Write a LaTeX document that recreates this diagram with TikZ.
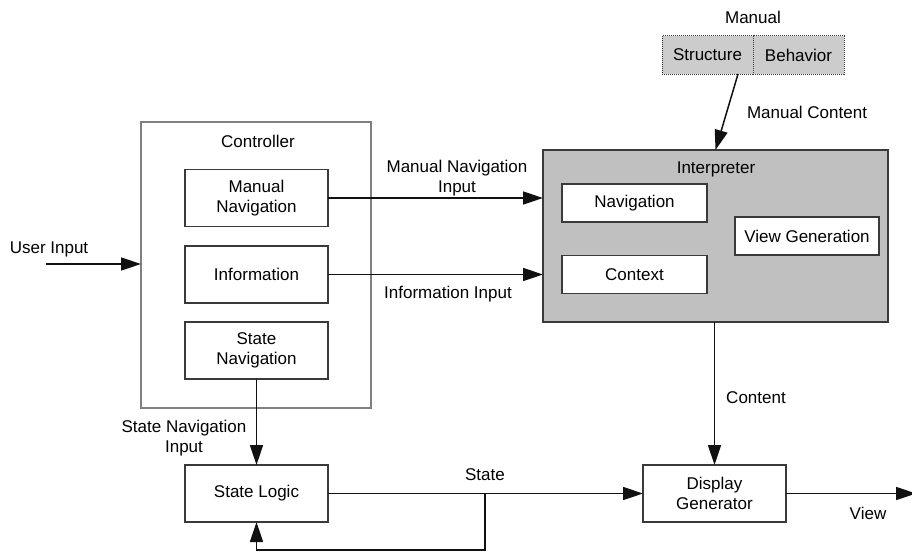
\documentclass[tikz,border=0pt]{standalone}
\usepackage{fontspec}
\setmainfont{Liberation Sans}
\usepackage{xcolor}
\usepackage{tikz}
\usetikzlibrary{arrows.meta,positioning,calc}
\definecolor{ink}{HTML}{111111}
\definecolor{framegray}{HTML}{808080}
\definecolor{edgegray}{HTML}{3A3A3A}
\definecolor{panelgray}{HTML}{C0C0C0}
\definecolor{manualgray}{HTML}{CCCCCC}
\tikzset{
  txt/.style={font=\fontsize{17}{20.4}\selectfont, align=center, inner sep=0pt},
  block/.style={txt, rectangle, draw=edgegray, line width=1.2pt, fill=white, minimum width=143pt, minimum height=57pt, outer sep=0pt},
  subblock/.style={block, minimum width=145pt, minimum height=38pt},
  group/.style={rectangle, draw=framegray, line width=1.6pt, inner sep=0pt, outer sep=0pt},
  panel/.style={rectangle, draw=edgegray, line width=1.8pt, fill=panelgray, inner sep=0pt, outer sep=0pt},
  manualpart/.style={txt, rectangle, draw=edgegray, densely dotted, line width=1pt, fill=manualgray, minimum width=91pt, minimum height=38pt, outer sep=0pt},
  arrow/.style={-{Triangle[length=20pt,width=13pt]}, line width=1.5pt, draw=ink},
  wire/.style={line width=1.5pt, draw=ink}
}

\begin{document}
\begin{tikzpicture}[x=1pt, y=-1pt]
  \useasboundingbox (0,0) rectangle (912,551);

  % controller side
  \node[group, minimum width=230pt, minimum height=286pt] (controller) at (256,265) {};
  \node[txt] (ctrltitle) at (258,141) {Controller};
  \node[block] (mannav) at (256.5,198) {Manual\\Navigation};
  \node[block] (info) at (256.5,274.5) {Information};
  \node[block] (statenav) at (256.5,350.5) {State\\Navigation};
  \node[block] (statelogic) at (256.5,493.5) {State Logic};

  % interpreter
  \node[panel, minimum width=345pt, minimum height=172pt] (interp) at (715.5,236) {};
  \node[txt] (interptitle) at (716,169) {Interpreter};
  \node[subblock] (navi) at (634.5,203) {Navigation};
  \node[subblock] (context) at (634.5,274.5) {Context};
  \node[subblock, minimum width=144pt] (viewgen) at (807,236) {View Generation};

  % manual
  \node[txt] (manualtitle) at (753,17) {Manual};
  \node[manualpart] (structure) at (707.5,55) {Structure};
  \node[manualpart] (behavior) at (798.5,55) {Behavior};

  \node[block] (display) at (714.5,493.5) {Display\\Generator};

  \coordinate (userin) at (46,264);
  \coordinate (mcstart) at (738,74);
  \coordinate (tap) at (485,493.5);
  \coordinate (loop) at (485,550);
  \coordinate (viewout) at (916,493.5);

  \draw[arrow] (userin) -- (userin -| controller.west);
  \draw[arrow] (mannav.east) -- (mannav.east -| interp.west);
  \draw[arrow] (info.east) -- (info.east -| interp.west);
  \draw[arrow] (mcstart) -- (interp.north);
  \draw[arrow] (statenav.south) -- (statelogic.north);
  \draw[arrow] (statelogic.east) -- (display.west);
  \draw[arrow] (tap) -- (loop) -| (statelogic.south);
  \draw[arrow] (display.north |- interp.south) -- (display.north);
  \draw[arrow] (display.east) -- (viewout);

  % labels
  \node[txt] (userlbl) at (49,249) {User Input};
  \node[txt] (mnilbl) at (457,178) {Manual Navigation\\Input};
  \node[txt] (infolbl) at (448,294) {Information Input};
  \node[txt] (snilbl) at (184,438) {State Navigation\\Input};
  \node[txt] (statelbl) at (485,475) {State};
  \node[txt] (contentlbl) at (756,398) {Content};
  \node[txt] (viewlbl) at (868,513) {View};
  \node[txt] (mclbl) at (807,112) {Manual Content};
\end{tikzpicture}
\end{document}
